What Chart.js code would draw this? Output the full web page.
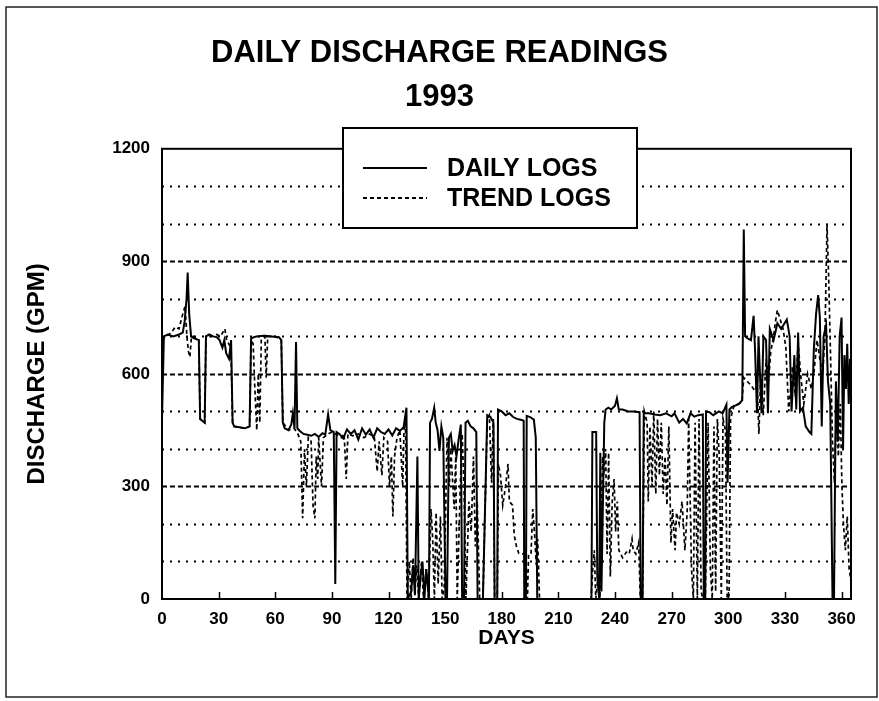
<!DOCTYPE html>
<html>
<head>
<meta charset="utf-8">
<title>Daily Discharge Readings 1993</title>
<script src="https://cdn.jsdelivr.net/npm/chart.js@4.4.1/dist/chart.umd.min.js"></script>
<style>
    html, body { margin: 0; padding: 0; background: #fff; }
    #wrap { width: 879px; height: 701px; }
</style>
</head>
<body>
<div id="wrap"><canvas id="dischargeChart" width="879" height="701"></canvas></div>
<script>
// Values: day of year -> discharge (GPM)
const dailyDays = [
    0, 1, 3, 6, 9, 11, 12, 13, 13.6, 14.4,
    15.4, 17, 19.5, 20.2, 22.6, 23.3, 25, 27, 29, 30.5,
    32, 33, 34, 35.5, 36.6, 37.4, 38.2, 41, 44, 46.4,
    47.2, 50, 54, 58, 62, 63.2, 64, 65, 67, 68.5,
    69.3, 70.2, 71, 71.7, 73, 75, 77, 79, 81, 83,
    85, 86.5, 88, 89.2, 91, 91.8, 92.5, 94, 96, 98,
    100, 102, 104, 106, 108, 110, 112, 114, 116, 118,
    120, 122, 124, 126, 128, 129.5, 130.2, 132, 133, 134,
    135.3, 136, 137, 138, 139, 140, 141.4, 142, 143, 144.2,
    145, 146, 147, 148, 149, 150.2, 151, 152, 153, 154,
    155, 156, 157, 158.3, 159, 160, 160.8, 162, 163.5, 165,
    166.5, 167.2, 170, 172.3, 174, 175.6, 176.2, 177.6, 178, 180,
    182, 184, 186, 188, 190, 191.6, 191.9, 192.8, 193.2, 195,
    197, 198, 198.8, 227.5, 228, 230, 230.6, 231.6, 232.2, 232.8,
    234.3, 235, 236.5, 238, 240, 241, 242, 244, 247, 250,
    253, 253.6, 254.6, 255.2, 258, 261, 264, 267, 270, 271.5,
    274, 276, 278, 280, 282, 284, 286.5, 287, 287.8, 288.2,
    290, 292, 295, 297, 299, 299.6, 300.6, 302, 304, 306,
    307.4, 308.2, 308.9, 310, 312, 313.4, 314.2, 315.2, 316, 317.6,
    318.6, 320, 321, 322, 324, 326, 328, 331, 332.5, 333.5,
    335, 336, 337, 338, 339.5, 341, 343, 344, 345.3, 346.5,
    347.6, 348.5, 349.5, 350.5, 351.8, 352.8, 354, 355.2, 356, 357,
    358, 359, 360, 360.8, 361.5, 362.3, 363, 363.8, 364.5, 365
];
const dailyFlow = [
    480, 700, 705, 700, 705, 710, 740, 800, 870, 760,
    700, 695, 690, 480, 470, 700, 705, 700, 698, 690,
    670, 690, 655, 640, 690, 470, 460, 458, 455, 460,
    695, 700, 702, 700, 698, 690, 470, 455, 450, 465,
    495, 455, 685, 455, 448, 440, 438, 435, 440, 432,
    442, 438, 492, 450, 445, 40, 445, 440, 428, 452,
    440, 450, 425, 455, 438, 452, 430, 455, 445, 440,
    452, 436, 455, 448, 458, 510, 0, 20, 90, 10,
    380, 0, 60, 100, 0, 80, 0, 470, 480, 510,
    470, 450, 395, 460, 430, 0, 0, 430, 440, 395,
    410, 380, 420, 465, 0, 0, 470, 475, 460, 455,
    445, 0, 0, 490, 485, 470, 0, 0, 505, 500,
    490, 495, 485, 480, 478, 475, 0, 0, 488, 485,
    478, 430, 0, 0, 445, 445, 60, 0, 390, 20,
    470, 505, 510, 505, 515, 535, 505, 505, 500, 500,
    498, 0, 0, 495, 495, 492, 490, 495, 487, 495,
    470, 480, 468, 495, 486, 490, 492, 0, 0, 500,
    498, 490, 500, 495, 518, 310, 505, 512, 516, 522,
    530, 985, 700, 695, 690, 755, 660, 495, 700, 495,
    700, 690, 495, 720, 690, 735, 720, 745, 700, 500,
    650, 505, 710, 500, 510, 460, 445, 440, 665, 760,
    810, 750, 460, 700, 730, 580, 520, 0, 0, 580,
    420, 700, 750, 400, 650, 560, 680, 520, 640, 560
];

const trendDays = [
    0, 2, 5, 7, 9, 11, 12.2, 13.2, 14, 14.8,
    15.6, 17, 19.5, 20.2, 22.6, 23.3, 26, 29, 31, 33.3,
    34.2, 36.5, 37.4, 38.2, 44, 46.4, 47.2, 48.3, 49.2, 50.2,
    51, 51.8, 52.6, 54.5, 55.2, 56, 60, 63.2, 64, 67,
    70, 72, 73.5, 74.5, 75.5, 76.5, 77.5, 79, 80, 81,
    81.7, 82.5, 83, 84.5, 85.5, 88, 90, 92, 95, 96.5,
    97.6, 98.5, 101, 104, 107, 110, 112.5, 114, 115, 116.5,
    117.5, 119.5, 120.5, 121.5, 122.3, 123.2, 124.5, 126, 127.5, 128.2,
    129, 129.8, 131, 132, 133, 134, 135, 136, 137.5, 138.5,
    140, 141.2, 142.5, 143.4, 144.3, 145.2, 146.3, 147.5, 148.4, 149.5,
    151, 152.2, 153, 154.8, 155.6, 156.4, 158, 159, 160, 161,
    162.6, 163.8, 165, 166, 167, 168.3, 170, 172.3, 173.4, 174.6,
    175.5, 176.2, 177.6, 178.2, 179.3, 180.5, 182, 183.3, 184, 185.7,
    186.6, 187.8, 189, 191, 192.6, 193.6, 194.2, 195.5, 196.4, 197.3,
    198.3, 199, 200, 227.3, 228.2, 229, 229.8, 231, 232, 233.4,
    234, 235, 235.8, 236.6, 237.5, 238.5, 239.5, 240.3, 241.2, 242,
    244, 246, 247.5, 249, 249.6, 251, 252.5, 253.4, 254.6, 255.5,
    257, 257.6, 258.5, 259.6, 260.5, 261.6, 262.5, 263.5, 264.5, 265.5,
    266.5, 267.5, 268.5, 269.6, 270.5, 271.8, 272.6, 274, 275.5, 277,
    278.2, 279, 280.5, 281.5, 282.4, 283.6, 284.5, 285.6, 286.6, 287.8,
    289.3, 290.5, 291.5, 292.4, 293.3, 294.2, 295.2, 296.3, 297.2, 298.5,
    299.4, 300.4, 301.2, 303, 305, 307.2, 308.2, 310, 312, 314,
    315.3, 316.2, 317.2, 318.5, 320, 321.3, 322.5, 324, 325, 326,
    327.5, 329, 330.5, 332, 334, 335.5, 337, 338.5, 340, 342,
    344, 345.5, 347, 348.5, 350, 351.2, 352.3, 353.2, 354.2, 355.2,
    356.2, 357.3, 358.3, 359.3, 360.2, 361, 362, 363, 364, 365
];
const trendFlow = [
    690, 700, 710, 725, 720, 760, 780, 700, 660, 645,
    700, 700, 690, 480, 470, 700, 700, 705, 700, 720,
    690, 670, 470, 460, 455, 460, 690, 680, 560, 450,
    600, 470, 690, 700, 590, 700, 700, 690, 470, 450,
    455, 440, 420, 215, 400, 300, 430, 420, 250, 215,
    380, 320, 430, 300, 430, 440, 445, 440, 430, 440,
    320, 440, 435, 440, 430, 440, 430, 340, 420, 330,
    430, 420, 300, 380, 220, 380, 430, 450, 300, 450,
    470, 0, 100, 0, 110, 20, 90, 0, 100, 0,
    80, 0, 240, 160, 0, 230, 40, 220, 0, 30,
    430, 300, 400, 240, 380, 0, 300, 440, 300, 0,
    260, 180, 380, 140, 260, 0, 0, 480, 490, 310,
    480, 0, 0, 360, 330, 250, 300, 360, 260, 250,
    170, 140, 122, 120, 125, 0, 120, 122, 240, 180,
    90, 160, 0, 0, 80, 130, 0, 60, 0, 380,
    330, 400, 120, 390, 60, 260, 320, 180, 260, 130,
    110, 125, 120, 160, 130, 120, 150, 0, 0, 500,
    470, 260, 460, 300, 500, 280, 480, 330, 470, 280,
    380, 250, 460, 150, 240, 130, 230, 200, 260, 130,
    230, 480, 80, 0, 470, 0, 480, 20, 0, 0,
    470, 80, 0, 460, 20, 480, 380, 0, 480, 450,
    0, 10, 480, 515, 518, 525, 590, 580, 570, 555,
    570, 440, 600, 490, 640, 580, 660, 700, 740, 770,
    745, 720, 670, 500, 620, 540, 680, 590, 520, 600,
    560, 610, 690, 640, 600, 700, 1000, 850, 640, 420,
    310, 510, 380, 520, 300, 200, 130, 220, 80, 50
];

const seriesNames = ['DAILY LOGS', 'TREND LOGS'];
const titleLines = ['DAILY DISCHARGE READINGS', '1993'];
const xTickStep = 30;
const yTickStep = 100;
const yLabelStep = 300;

const BASE_FONT = '"Liberation Sans", Arial, Helvetica, sans-serif';

document.addEventListener('DOMContentLoaded', function() {
    Chart.defaults.font.family = BASE_FONT;
    Chart.defaults.color = '#000';
    initDischargeChart();
});

function toPoints(days, values) {
    return days.map((d, i) => ({ x: d, y: values[i] }));
}

// white page with the thin frame of the scanned sheet
const pageFrame = {
    id: 'pageFrame',
    beforeDraw(chart) {
        const ctx = chart.ctx;
        ctx.save();
        ctx.fillStyle = '#fff';
        ctx.fillRect(0, 0, chart.width, chart.height);
        ctx.strokeStyle = '#222';
        ctx.lineWidth = 1.5;
        ctx.strokeRect(6, 7, 871, 690);
        ctx.restore();
    }
};

// dotted / dashed horizontal grid, plot border and inward x ticks
const plotGrid = {
    id: 'plotGrid',
    beforeDatasetsDraw(chart) {
        const { ctx, chartArea: a, scales: { y } } = chart;
        ctx.save();
        ctx.strokeStyle = '#000';
        y.ticks.forEach(t => {
            if (t.value <= y.min || t.value >= y.max) return;
            const py = Math.round(y.getPixelForValue(t.value)) + 0.5;
            const major = t.value % yLabelStep === 0;
            ctx.lineWidth = 2;
            ctx.setLineDash(major ? [5, 3] : [2, 6]);
            ctx.beginPath();
            ctx.moveTo(a.left, py);
            ctx.lineTo(a.right, py);
            ctx.stroke();
        });
        ctx.restore();
    },
    afterDatasetsDraw(chart) {
        const { ctx, chartArea: a, scales: { x } } = chart;
        ctx.save();
        ctx.strokeStyle = '#000';
        ctx.setLineDash([]);
        ctx.lineWidth = 1.5;
        x.ticks.forEach(t => {
            if (t.value <= x.min) return;
            const px = Math.round(x.getPixelForValue(t.value)) + 0.5;
            ctx.beginPath();
            ctx.moveTo(px, a.bottom);
            ctx.lineTo(px, a.bottom - 7);
            ctx.stroke();
        });
        ctx.lineWidth = 2;
        ctx.strokeRect(a.left, a.top, a.right - a.left, a.bottom - a.top);
        ctx.restore();
    }
};

// boxed legend sitting over the top edge of the plot
const boxLegend = {
    id: 'boxLegend',
    afterDraw(chart) {
        const ctx = chart.ctx;
        ctx.save();
        ctx.fillStyle = '#fff';
        ctx.fillRect(343, 128, 294, 100);
        ctx.strokeStyle = '#000';
        ctx.lineWidth = 2;
        ctx.setLineDash([]);
        ctx.strokeRect(343, 128, 294, 100);
        ctx.font = 'bold 25px ' + BASE_FONT;
        ctx.textBaseline = 'middle';
        ctx.fillStyle = '#000';
        chart.data.datasets.forEach((ds, i) => {
            const ly = 168 + i * 30;
            ctx.setLineDash(ds.borderDash || []);
            ctx.lineWidth = 2;
            ctx.beginPath();
            ctx.moveTo(363, ly);
            ctx.lineTo(427, ly);
            ctx.stroke();
            ctx.fillText(ds.label, 447, ly + 1);
        });
        ctx.restore();
    }
};

function initDischargeChart() {
    const ctx = document.getElementById('dischargeChart').getContext('2d');
    return new Chart(ctx, {
        type: 'line',
        data: {
            datasets: [{
                label: seriesNames[0],
                data: toPoints(dailyDays, dailyFlow),
                borderColor: '#000',
                borderWidth: 2,
                pointRadius: 0,
                tension: 0
            }, {
                label: seriesNames[1],
                data: toPoints(trendDays, trendFlow),
                borderColor: '#000',
                borderWidth: 1.7,
                borderDash: [4, 3],
                pointRadius: 0,
                tension: 0
            }]
        },
        options: {
            responsive: false,
            animation: false,
            layout: { padding: 0 },
            plugins: {
                legend: { display: false },
                tooltip: { enabled: false },
                title: {
                    display: true,
                    text: titleLines,
                    color: '#000',
                    font: { size: 31, weight: 'bold', lineHeight: 1.4 },
                    padding: { top: 32, bottom: 30 }
                }
            },
            scales: {
                x: {
                    type: 'linear',
                    min: 0,
                    max: 365,
                    grid: { display: false },
                    border: { display: false },
                    ticks: {
                        stepSize: xTickStep,
                        includeBounds: false,
                        autoSkip: false,
                        maxRotation: 0,
                        padding: 2,
                        color: '#000',
                        font: { size: 17, weight: 'bold' }
                    },
                    title: {
                        display: true,
                        text: 'DAYS',
                        color: '#000',
                        font: { size: 21, weight: 'bold' },
                        padding: { top: 0, bottom: 50 }
                    },
                    afterFit: function(scale) { scale.height = 102; }
                },
                y: {
                    min: 0,
                    max: 1200,
                    grid: { display: false },
                    border: { display: false },
                    ticks: {
                        stepSize: yTickStep,
                        autoSkip: false,
                        padding: 4,
                        color: '#000',
                        font: { size: 17, weight: 'bold' },
                        callback: function(value) {
                            return value % yLabelStep === 0 ? value : '';
                        }
                    },
                    title: {
                        display: true,
                        text: 'DISCHARGE (GPM)',
                        color: '#000',
                        font: { size: 24, weight: 'bold' },
                        padding: { top: 23, bottom: 0 }
                    },
                    afterFit: function(scale) { scale.width = 162; }
                },
                // empty right-hand margin so the title stays centred on the page
                rightGap: {
                    type: 'linear',
                    position: 'right',
                    grid: { display: false },
                    border: { display: false },
                    ticks: { display: false },
                    afterFit: function(scale) { scale.width = 28; }
                }
            }
        },
        plugins: [pageFrame, plotGrid, boxLegend]
    });
}
</script>
</body>
</html>
